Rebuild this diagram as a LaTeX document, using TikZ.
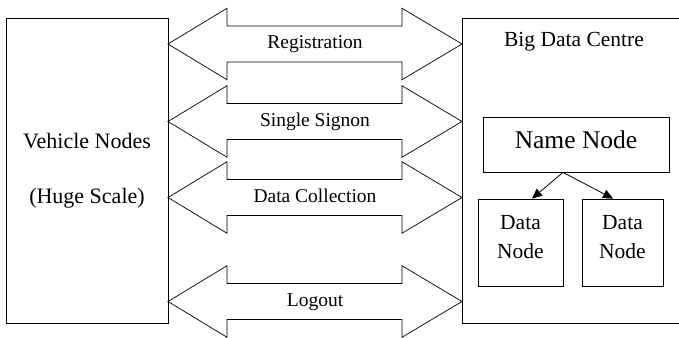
\documentclass[tikz,border=0pt]{standalone}
\usepackage{fontspec}
\setmainfont{Liberation Serif}
\usetikzlibrary{arrows.meta}
\begin{document}
\begin{tikzpicture}[x=1pt,y=-1pt,line width=0.8pt,
  box/.style={draw,inner sep=0pt,align=center},
  flowlabel/.style={inner sep=0pt,anchor=base,font=\fontsize{19.5}{23}\selectfont},
  link/.style={-{Triangle[length=10pt,width=9pt]}}]
\useasboundingbox (0,0) rectangle (679,337);

% vehicle side
\node[box,minimum width=162pt,minimum height=305pt,
      font=\fontsize{22}{55}\selectfont] (veh) at (87,170.5)
      {Vehicle Nodes\\(Huge Scale)};

% big data centre frame (open on the right)
\draw (700,18) -| (462,323) -- (700,323);
\node[inner sep=0pt,anchor=base,font=\fontsize{21.5}{26}\selectfont]
      (bdc) at (574,46.7) {Big Data Centre};

% cluster nodes
\node[box,minimum width=186pt,minimum height=55pt,text depth=9.7pt,
      font=\fontsize{25.5}{30}\selectfont] (nn) at (576,144.5) {Name Node};
\node[box,minimum width=85pt,minimum height=87pt,text depth=10.9pt,
      font=\fontsize{21.5}{28.3}\selectfont] (dl) at (520.5,242.5) {Data\\Node};
\node[box,minimum width=81pt,minimum height=87pt,text depth=10.9pt,
      font=\fontsize{21.5}{28.3}\selectfont] (dr) at (622.5,242.5) {Data\\Node};

\coordinate (split) at ([xshift=-13pt]nn.south);
\draw[link] (split) -- ([xshift=11.5pt]dl.north);
\draw[link] (split) -- ([xshift=-9.5pt]dr.north);

% two-way message arrows
\foreach \yc/\txt/\nm in {44/Registration/reg,121.5/Single Signon/sso,
                          197.5/Data Collection/dc,301.5/Logout/lo}{
  \draw[line width=0.7pt] (168,\yc) -- (227,\yc-35.75) -- (227,\yc-18) -- (402,\yc-18)
        -- (402,\yc-35.75) -- (462,\yc) -- (402,\yc+35.75) -- (402,\yc+18)
        -- (227,\yc+18) -- (227,\yc+35.75) -- cycle;
  \node[flowlabel] (\nm) at (315,\yc+4.5) {\txt};
}
\end{tikzpicture}
\end{document}
